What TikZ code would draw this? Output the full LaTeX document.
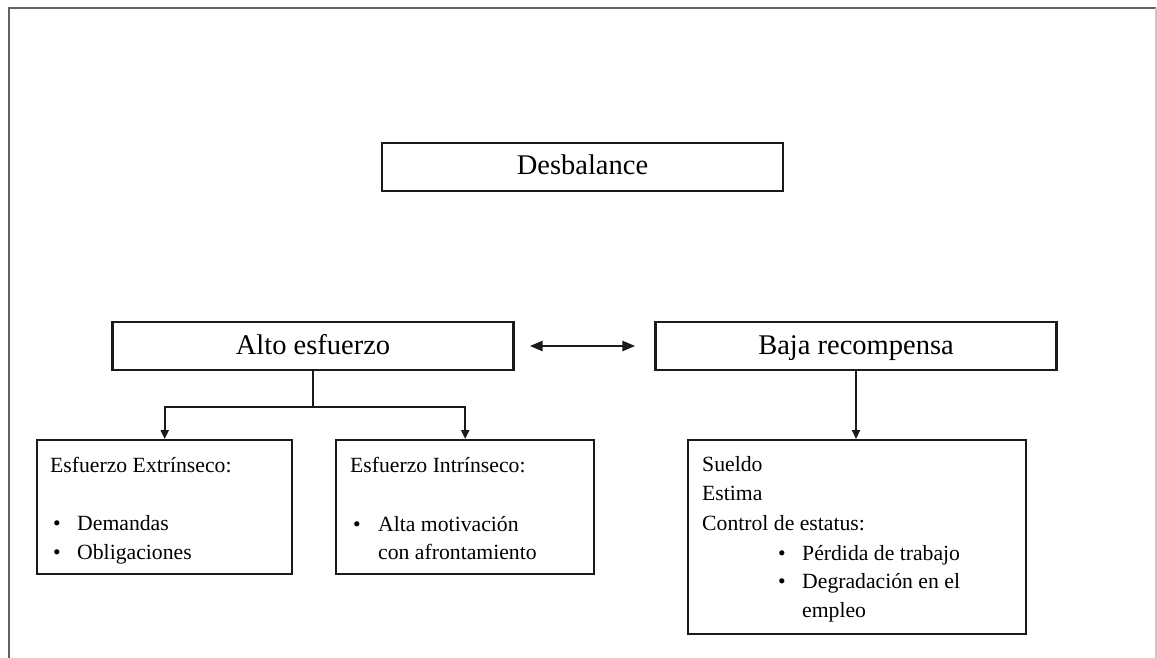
\documentclass[tikz,border=0pt]{standalone}
\usepackage{fontspec}
\setmainfont{Liberation Serif}
\usetikzlibrary{arrows.meta,calc}
\definecolor{ink}{HTML}{1A1A1A}
\newcommand{\bigtxt}{\fontsize{28.5}{34}\selectfont}
\newcommand{\smalltxt}{\fontsize{21.7}{29}\selectfont}
\begin{document}
\begin{tikzpicture}[x=1pt,y=-1pt,
  headbox/.style={draw=ink,line width=2.4pt,rectangle,minimum width=401pt,minimum height=48pt,inner sep=0pt,
    text height=19pt,text depth=3pt,font=\bigtxt,text=black},
  listbox/.style={draw=ink,line width=2.4pt,rectangle,anchor=north west,inner sep=0pt},
  line/.style={anchor=base west,inner sep=0pt,font=\smalltxt,text=black},
  conn/.style={draw=ink,line width=2pt},
  arr/.style={conn,-{Triangle[length=9pt,width=8pt]}},
  twoway/.style={conn,line width=2.6pt,{Triangle[length=13pt,width=10pt]}-{Triangle[length=13pt,width=10pt]}}]
  \useasboundingbox (0,0) rectangle (1157,658);
  \clip (0,0) rectangle (1157,658);
  \fill[white] (0,0) rectangle (1157,658);

  % page frame, open at the bottom
  \draw[gray!75!black,line width=2.5pt] (9,700) -- (9,8) -- (1156,8);
  \draw[gray!45,line width=1.5pt] (1156,8) -- (1156,700);

  % heading boxes
  \node[headbox] (des)  at (582.5,167) {Desbalance};
  \node[headbox] (alto) at (313,346) {Alto esfuerzo};
  \node[headbox] (baja) at (856,346) {Baja recompensa};

  % detail boxes
  \node[listbox,minimum width=255pt,minimum height=134pt] (ext) at (36,439) {};
  \node[listbox,minimum width=258pt,minimum height=134pt] (int) at (335,439) {};
  \node[listbox,minimum width=338pt,minimum height=194pt] (sue) at (687,439) {};

  % extrinsic effort
  \node[line] (ext0) at (50,472) {Esfuerzo Extrínseco:};
  \node[line] (ext1b) at (53,530) {•};
  \node[line] (ext1) at (77,530) {Demandas};
  \node[line] (ext2b) at (53,559) {•};
  \node[line] (ext2) at (77,559) {Obligaciones};

  % intrinsic effort
  \node[line] (int0) at (350,472) {Esfuerzo Intrínseco:};
  \node[line] (int1b) at (353,531) {•};
  \node[line] (int1) at (378,531) {Alta motivación};
  \node[line] (int2) at (378,559) {con afrontamiento};

  % rewards
  \node[line] (sue0) at (702,471) {Sueldo};
  \node[line] (sue1) at (702,500) {Estima};
  \node[line] (sue2) at (702,530) {Control de estatus:};
  \node[line] (sue3b) at (778,560) {•};
  \node[line] (sue3) at (802,560) {Pérdida de trabajo};
  \node[line] (sue4b) at (778,588) {•};
  \node[line] (sue4) at (802,588) {Degradación en el};
  \node[line] (sue5) at (802,617) {empleo};

  % connectors
  \draw[conn] (alto.south) -- ++(0,36) coordinate (split);
  \draw[arr] (split) -| (ext.north);
  \draw[arr] (split) -| (int.north);
  \draw[arr] (baja.south) -- (baja.south |- sue.north);
  \draw[twoway] ($(alto.east)+(15,0)$) -- ($(baja.west)+(-19,0)$);
\end{tikzpicture}
\end{document}
